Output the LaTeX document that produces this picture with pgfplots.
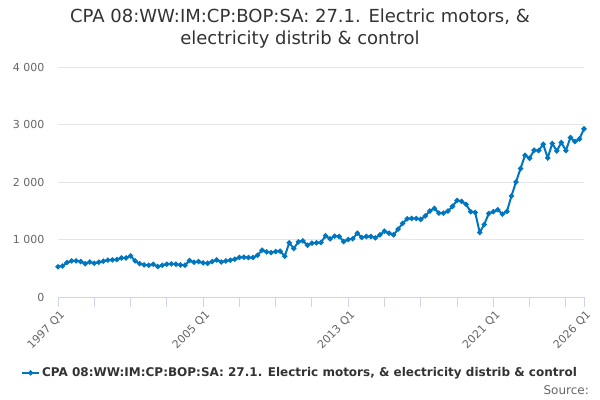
\documentclass[border=0pt]{standalone}
\usepackage{fontspec}
\setmainfont{DejaVu Sans}
\usepackage{pgfplots}
\pgfplotsset{compat=1.18}
\definecolor{serblue}{RGB}{0,118,192}
\definecolor{titlegray}{HTML}{333333}
\definecolor{tickgray}{HTML}{666666}
\definecolor{gridgray}{HTML}{E6E6E6}
\definecolor{axisblue}{HTML}{CCD6EB}
\begin{document}
\begin{tikzpicture}
\begin{axis}[
  at={(58bp,103bp)}, anchor=south west,
  scale only axis, width=526bp, height=230bp,
  xmin=0, xmax=116, ymin=0, ymax=4000,
  axis x line*=bottom, axis y line*=left,
  x axis line style={-, draw=axisblue, line width=1bp},
  y axis line style={draw=none},
  xtick={0,32,64,96,116},
  xticklabels={1997 Q1,2005 Q1,2013 Q1,2021 Q1,2026 Q1},
  minor xtick={8,16,24,40,48,56,72,80,88,104,112},
  x tick label style={rotate=45, anchor=north east, font=\fontsize{11bp}{13bp}\selectfont, text=tickgray, inner sep=1bp, yshift=-2bp},
  tick align=outside,
  xtick style={draw=axisblue, line width=1bp},
  minor x tick style={draw=axisblue, line width=1bp},
  major tick length=10bp, minor tick length=10bp,
  ytick={0,1000,2000,3000,4000},
  ytick style={draw=none},
  y tick label style={font=\fontsize{11bp}{13bp}\selectfont, text=tickgray},
  yticklabel style={/pgf/number format/.cd, 1000 sep={\ }, assume math mode=true},
  ymajorgrids, grid style={gridgray, line width=1bp},
  legend style={at={(0.46,-0.33)}, anchor=center, draw=none, fill=none,
    font=\bfseries\fontsize{12bp}{14bp}\selectfont, text=titlegray},
  legend cell align=left,
  clip=false,
]
\addplot[serblue, line width=2bp, mark=*, mark size=1.5bp, mark options={fill=serblue, draw=serblue}] coordinates {
(0,525)(1,540)(2,600)(3,628)(4,628)(5,616)(6,580)(7,610)(8,587)(9,605)
(10,622)(11,640)(12,645)(13,651)(14,680)(15,680)(16,715)(17,628)(18,580)(19,558)
(20,552)(21,570)(22,529)(23,552)(24,570)(25,575)(26,570)(27,558)(28,552)(29,634)
(30,605)(31,616)(32,593)(33,587)(34,616)(35,645)(36,610)(37,628)(38,640)(39,657)
(40,688)(41,692)(42,686)(43,686)(44,727)(45,814)(46,785)(47,773)(48,791)(49,797)
(50,709)(51,942)(52,843)(53,959)(54,977)(55,901)(56,936)(57,942)(58,948)(59,1064)
(60,1012)(61,1058)(62,1052)(63,965)(64,1000)(65,1012)(66,1110)(67,1035)(68,1052)(69,1052)
(70,1029)(71,1081)(72,1145)(73,1110)(74,1081)(75,1180)(76,1279)(77,1360)(78,1366)(79,1366)
(80,1350)(81,1410)(82,1495)(83,1541)(84,1459)(85,1459)(86,1494)(87,1576)(88,1680)(89,1663)
(90,1610)(91,1483)(92,1471)(93,1122)(94,1262)(95,1453)(96,1483)(97,1517)(98,1442)(99,1488)
(100,1756)(101,2000)(102,2233)(103,2465)(104,2413)(105,2552)(106,2547)(107,2657)(108,2419)(109,2669)
(110,2541)(111,2686)(112,2547)(113,2773)(114,2703)(115,2750)(116,2924)
};
\addlegendentry{CPA 08:WW:IM:CP:BOP:SA: 27.1. Electric motors, \& electricity distrib \& control}
\end{axis}
\node[align=center, text=titlegray, font=\fontsize{18bp}{22bp}\selectfont, anchor=center] at (300bp,371bp)
  {CPA 08:WW:IM:CP:BOP:SA: 27.1. Electric motors, \&\\electricity distrib \& control};
\node[anchor=base east, text=tickgray, font=\fontsize{12bp}{14bp}\selectfont, inner sep=0pt] at (589bp,6bp) {Source:};
\pgfresetboundingbox
\path[use as bounding box] (0,0) rectangle (600bp,400bp);
\end{tikzpicture}
\end{document}
